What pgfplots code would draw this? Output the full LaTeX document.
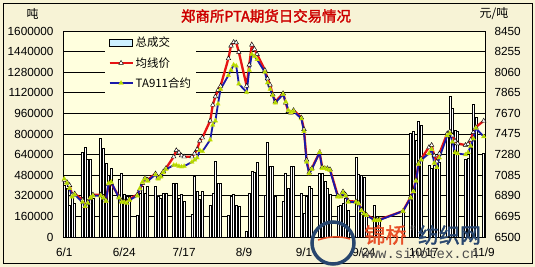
\documentclass[border=0pt]{standalone}
\usepackage{pgfplots}
\pgfplotsset{compat=1.18}
\usepackage{pgfplotstable}
\usepackage{fontspec}
\setmainfont{Liberation Sans}
\setmonofont{Liberation Mono}
\newfontfamily\cjk{Noto Sans CJK SC}[AutoFakeBold=2]
\definecolor{outerbg}{RGB}{247,243,214}
\definecolor{plotbg}{RGB}{255,255,222}
\definecolor{avgred}{RGB}{230,20,20}
\definecolor{tablue}{RGB}{25,25,170}
\definecolor{tagreen}{RGB}{170,215,0}
\definecolor{titlered}{RGB}{205,0,0}
\definecolor{legcyan}{RGB}{205,240,255}
\definecolor{wmred}{RGB}{232,80,40}
\definecolor{wmblue}{RGB}{40,70,110}
\pgfplotsset{
  longline legend/.style={legend image code/.code={\draw[mark repeat=2,mark phase=2,##1] plot coordinates {(0bp,0bp) (11.5bp,0bp) (23bp,0bp)};}},
  box legend/.style={legend image code/.code={\draw[draw=black, fill=legcyan, line width=0.6bp] (0bp,-3.5bp) rectangle (23bp,3.5bp);}},
}

\pgfplotstableread{
d vol avg ta
0 400000 7040 7050
1 380000 7020 7010
2 250000 6990 6960
3 320000 6900 6880
4 260000 6910 6900
7 660000 6850 6830
8 695000 6790 6790
9 600000 6830 6820
10 600000 6870 6870
11 300000 6900 6890
14 770000 6900 6890
15 690000 6880 6870
16 575000 6850 6840
17 480000 7000 7010
18 536000 7010 7020
21 445000 6880 6870
22 497000 6840 6830
23 330000 6835 6830
24 316000 6830 6820
25 316000 6860 6850
28 166000 6900 6890
29 342000 6950 6960
30 393000 7010 7020
31 342000 7060 7050
32 393000 7040 7030
35 393000 7100 7090
36 320000 7060 7050
37 300000 7080 7070
38 342000 7120 7110
39 342000 7150 7140
42 419000 7260 7180
43 419000 7320 7180
44 300000 7300 7170
45 329000 7270 7165
46 277000 7260 7170
49 173000 7260 7210
50 471000 7290 7230
51 355000 7330 7250
52 290000 7410 7320
53 352000 7440 7310
56 249000 7600 7420
57 342000 7750 7560
58 585000 7830 7600
59 419000 7890 7760
60 419000 7930 7900
63 171000 8190 8030
64 313000 8310 8080
65 330000 8345 8130
66 249000 8340 8120
67 236000 8250 7950
70 41000 7930 7870
71 342000 8130 8080
72 510000 8320 8230
73 505000 8280 8210
74 582000 8230 8180
77 326000 8080 8060
78 735000 8000 7960
79 546000 7940 7900
80 546000 7850 7840
81 313000 7780 7770
84 274000 7860 7850
85 495000 7770 7780
86 378000 7690 7700
87 546000 7675 7680
88 546000 7700 7690
91 339000 7630 7620
92 184000 7520 7500
93 313000 7230 7210
94 391000 7110 7100
95 380000 7150 7140
98 495000 7300 7300
99 495000 7160 7150
100 430000 7150 7150
101 378000 7150 7140
102 330000 7140 7130
105 236000 6890 6880
106 250000 6885 6880
107 262000 6930 6920
108 300000 6900 6890
109 210000 6840 6830
112 620000 6835 6830
113 490000 6820 6815
114 480000 6760 6750
115 460000 6725 6720
116 160000 6710 6705
119 249000 6665 6660
120 158000 6660 6655
121 145000 6665 6660
130 210000 6745 6745
133 805000 6880 6870
134 818000 6940 6930
135 753000 7040 7030
136 896000 7200 7190
137 870000 7240 7230
140 560000 7350 7290
141 536000 7370 7330
142 560000 7270 7200
143 560000 7215 7160
144 580000 7290 7250
147 790000 7480 7460
148 1090000 7500 7480
149 1000000 7460 7400
150 830000 7410 7300
151 820000 7385 7290
154 600000 7370 7280
155 610000 7380 7300
156 720000 7420 7360
157 1033000 7490 7430
158 930000 7540 7530
161 650000 7600 7450
}\datatable

\begin{document}
\begin{tikzpicture}
\fill[outerbg] (0bp,0bp) rectangle (535bp,267bp);
\draw[black, line width=0.8bp] (3bp,4bp) rectangle (532bp,264bp);
\useasboundingbox (0bp,0bp) rectangle (535bp,267bp);

\begin{axis}[
  at={(63bp,30bp)}, anchor=south west, scale only axis,
  width=422bp, height=206bp,
  xmin=-0.5, xmax=161.5, ymin=0, ymax=1600000,
  scaled y ticks=false,
  ytick={0,160000,320000,480000,640000,800000,960000,1120000,1280000,1440000,1600000},
  yticklabels={0,160000,320000,480000,640000,800000,960000,1120000,1280000,1440000,1600000},
  xtick={0,23,46,69,92,115,138,161},
  xticklabels={6/1,6/24,7/17,8/9,9/1,9/24,10/17,11/9},
  ytick pos=left, xtick pos=bottom,
  major tick length=0pt,
  ymajorgrids, grid style={black, line width=0.6bp},
  axis line style={black, line width=0.8bp},
  axis background/.style={fill=plotbg},
  tick label style={font=\fontsize{11.8}{13}\selectfont},
  yticklabel style={xshift=-6bp},
  xticklabel style={yshift=-7bp},
  /pgf/number format/assume math mode=true,
  ybar, bar width=2.0bp,
]
\addplot[draw=black, fill=white, line width=0.55bp] table[x=d,y=vol]{\datatable};
\end{axis}

\begin{axis}[
  at={(63bp,30bp)}, anchor=south west, scale only axis,
  width=422bp, height=206bp,
  xmin=-0.5, xmax=161.5, ymin=6500, ymax=8450,
  scaled y ticks=false,
  axis x line=none, axis y line*=right,
  y axis line style={-, black, line width=0.8bp},
  ytick={6500,6695,6890,7085,7280,7475,7670,7865,8060,8255,8450},
  yticklabels={6500,6695,6890,7085,7280,7475,7670,7865,8060,8255,8450},
  major tick length=0pt,
  tick label style={font=\fontsize{11.8}{13}\selectfont},
  yticklabel style={xshift=6bp},
  /pgf/number format/assume math mode=true,
  clip=false,
  legend style={at={(0.1,0.995)}, anchor=north west, fill=plotbg, draw=none,
    font=\cjk\fontsize{11.5}{13}\selectfont, row sep=5bp, inner sep=3bp,
    cells={anchor=west}},
]
\addlegendimage{box legend}
\addlegendentry{总成交}
\addplot[color=avgred, line width=2.3bp, mark=triangle*, mark size=2.6bp,
  mark options={fill=white, draw=black, line width=0.45bp}, longline legend]
  table[x=d,y=avg]{\datatable};
\addlegendentry{均线价}
\addplot[color=tablue, line width=1.8bp, mark=triangle*, mark size=2.6bp,
  mark options={fill=tagreen, draw=yellow!85!green, line width=0.35bp}, longline legend]
  table[x=d,y=ta]{\datatable};
\addlegendentry{TA911合约}
\end{axis}

\node[font=\cjk\bfseries\fontsize{14.5}{16}\selectfont, text=titlered] at (266bp,251bp) {郑商所PTA期货日交易情况};
\node[font=\cjk\fontsize{12}{13}\selectfont] at (32.5bp,253bp) {吨};
\node[font=\cjk\fontsize{12}{13}\selectfont] at (494bp,253bp) {元/吨};

% watermark
\draw[wmblue, line width=3.5bp] (333bp,24bp) circle (21bp);
\draw[wmred, line width=1.5bp] (318bp,27bp) .. controls (330bp,31bp) and (340bp,31bp) .. (350bp,28bp);
\node[font=\cjk\bfseries\fontsize{21}{22}\selectfont, text=wmred] at (385.5bp,32bp) {锦桥};
\node[font=\fontsize{7}{8}\selectfont, text=gray] at (413bp,39bp) {®};
\node[font=\cjk\bfseries\fontsize{21}{22}\selectfont, text=wmblue] at (449.5bp,32bp) {纺织网};
\node[font=\ttfamily\fontsize{14}{15}\selectfont, text=black!70] at (420bp,13bp) {www.sinotex.cn};
\end{tikzpicture}
\end{document}
